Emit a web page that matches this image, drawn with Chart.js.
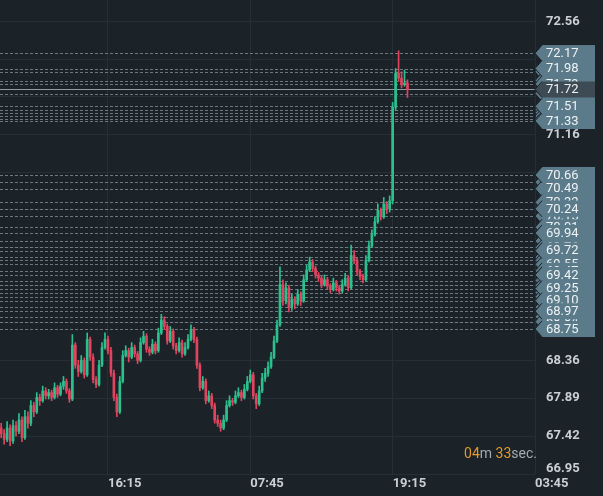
<!DOCTYPE html>
<html>
<head>
<meta charset="utf-8">
<script src="https://cdn.jsdelivr.net/npm/chart.js@4.4.1/dist/chart.umd.min.js"></script>
<style>
  html, body { margin: 0; background: #1b2228; }
  #wrap { width: 603px; height: 496px; }
</style>
</head>
<body>
<div id="wrap"><canvas id="priceChart"></canvas></div>
<script>
// candles (one per slot)
const open = [
  67.52,67.45,67.38,67.52,67.36,67.55,67.48,67.62,67.40,67.66,
  67.58,67.80,67.72,67.90,67.86,67.98,67.92,67.96,67.90,68.02,
  67.94,68.04,68.10,67.98,67.88,68.55,68.30,68.22,68.36,68.18,
  68.62,68.40,68.12,68.06,68.30,68.52,68.62,68.48,68.20,67.90,
  67.72,68.10,68.42,68.48,68.40,68.52,68.44,68.36,68.58,68.66,
  68.50,68.46,68.56,68.48,68.70,68.86,68.78,68.60,68.72,68.54,
  68.48,68.58,68.44,68.52,68.62,68.74,68.62,68.30,68.02,68.10,
  67.86,67.92,67.80,67.62,67.58,67.52,67.62,67.80,67.86,67.84,
  67.92,67.96,67.90,68.00,68.10,68.18,67.92,67.82,67.98,68.14,
  68.20,68.28,68.40,68.60,68.80,69.30,69.10,69.26,69.02,69.12,
  69.06,69.18,69.10,69.36,69.48,69.58,69.50,69.42,69.38,69.30,
  69.36,69.28,69.24,69.32,69.26,69.22,69.30,69.38,69.26,69.66,
  69.60,69.46,69.40,69.36,69.60,69.78,69.92,70.08,70.22,70.14,
  70.30,70.24,70.34,71.50,71.92,71.86,71.78,71.80
]
const high = [
  67.58,67.50,67.60,67.56,67.62,67.60,67.70,67.66,67.74,67.72,
  67.86,67.84,67.96,67.94,68.04,68.02,68.00,67.99,68.08,68.05,
  68.08,68.16,68.13,68.01,68.68,68.58,68.36,68.42,68.39,68.70,
  68.65,68.44,68.16,68.36,68.58,68.70,68.66,68.52,68.24,67.94,
  68.16,68.48,68.54,68.51,68.58,68.55,68.47,68.64,68.72,68.69,
  68.53,68.62,68.59,68.76,68.93,68.90,68.81,68.78,68.75,68.57,
  68.64,68.61,68.58,68.68,68.80,68.77,68.65,68.33,68.16,68.13,
  67.98,67.95,67.83,67.68,67.62,67.68,67.86,67.92,67.89,67.98,
  68.02,67.99,68.06,68.16,68.24,68.21,67.95,68.04,68.20,68.26,
  68.34,68.46,68.66,68.86,69.52,69.36,69.32,69.29,69.18,69.15,
  69.24,69.21,69.42,69.54,69.64,69.61,69.53,69.45,69.41,69.42,
  69.39,69.31,69.38,69.35,69.29,69.36,69.44,69.41,69.79,69.72,
  69.63,69.49,69.43,69.66,69.84,69.98,70.14,70.30,70.25,70.38,
  70.33,70.40,71.56,71.98,72.20,71.94,71.96,71.84
]
const low = [
  67.40,67.32,67.35,67.30,67.33,67.42,67.45,67.35,67.38,67.52,
  67.55,67.66,67.70,67.80,67.84,67.88,67.88,67.86,67.88,67.90,
  67.92,68.00,67.95,67.84,67.86,68.26,68.16,68.20,68.14,68.16,
  68.36,68.08,68.02,68.04,68.28,68.50,68.44,68.16,67.86,67.66,
  67.70,68.08,68.40,68.34,68.38,68.40,68.32,68.34,68.56,68.46,
  68.42,68.44,68.44,68.46,68.68,68.74,68.56,68.58,68.50,68.44,
  68.46,68.40,68.42,68.50,68.60,68.58,68.26,67.98,68.00,67.82,
  67.84,67.76,67.58,67.54,67.48,67.50,67.60,67.78,67.80,67.82,
  67.90,67.86,67.88,67.98,68.08,67.88,67.76,67.80,67.96,68.10,
  68.16,68.26,68.38,68.58,68.78,69.04,69.06,68.96,68.98,69.00,
  69.04,69.04,69.08,69.34,69.46,69.46,69.38,69.34,69.26,69.28,
  69.24,69.20,69.22,69.22,69.18,69.20,69.28,69.22,69.24,69.56,
  69.42,69.36,69.32,69.34,69.58,69.76,69.90,70.06,70.10,70.12,
  70.18,70.20,70.30,71.46,71.82,71.74,71.76,71.62
]
const close = [
  67.45,67.38,67.52,67.36,67.55,67.48,67.62,67.40,67.66,67.58,
  67.80,67.72,67.90,67.86,67.98,67.92,67.96,67.90,68.02,67.94,
  68.04,68.10,67.98,67.88,68.55,68.30,68.22,68.36,68.18,68.62,
  68.40,68.12,68.06,68.30,68.52,68.62,68.48,68.20,67.90,67.72,
  68.10,68.42,68.48,68.40,68.52,68.44,68.36,68.58,68.66,68.50,
  68.46,68.56,68.48,68.70,68.86,68.78,68.60,68.72,68.54,68.48,
  68.58,68.44,68.52,68.62,68.74,68.62,68.30,68.02,68.10,67.86,
  67.92,67.80,67.62,67.58,67.52,67.62,67.80,67.86,67.84,67.92,
  67.96,67.90,68.00,68.10,68.18,67.92,67.82,67.98,68.14,68.20,
  68.28,68.40,68.60,68.80,69.30,69.10,69.26,69.02,69.12,69.06,
  69.18,69.10,69.36,69.48,69.58,69.50,69.42,69.38,69.30,69.36,
  69.28,69.24,69.32,69.26,69.22,69.30,69.38,69.26,69.66,69.60,
  69.46,69.40,69.36,69.60,69.78,69.92,70.08,70.22,70.14,70.30,
  70.24,70.34,71.50,71.92,71.86,71.78,71.80,71.72
]

// axis ticks
const xTicks = [36, 84, 132, 180]
const timeLabels = ['16:15', '07:45', '19:15', '03:45']
const yTicks = [66.95, 67.42, 67.89, 68.36, 68.83, 69.29, 69.76, 70.23, 70.69, 71.16, 71.63, 72.09, 72.56]

// horizontal price levels (dashed lines) and the ones whose tag is readable
const levels = [72.17, 71.98, 71.94, 71.83, 71.79, 71.67, 71.51, 71.47, 71.43, 71.39, 71.35, 71.33,
  70.66, 70.57, 70.49, 70.32, 70.24, 70.15, 70.01, 69.94, 69.84, 69.76, 69.72, 69.64, 69.60, 69.55,
  69.47, 69.42, 69.35, 69.29, 69.25, 69.20, 69.15, 69.10, 69.02, 68.97, 68.90, 68.84, 68.75]
const shownTags = [72.17, 71.98, 71.51, 70.66, 70.24, 69.94, 69.72, 69.42, 69.25, 69.10, 68.97, 68.75]
const currentPrice = 71.72

const bgColor = '#1b2228'
const gridColor = '#262f35'
const upColor = '#2cc08e'
const downColor = '#e2445e'
const textColor = '#c9cfd4'

const candleColor = ctx => close[ctx.dataIndex] >= open[ctx.dataIndex] ? upColor : downColor

function drawTag(ctx, x, y, label, fill) {
  ctx.beginPath()
  ctx.moveTo(x, y)
  ctx.lineTo(x + 7, y - 8)
  ctx.lineTo(x + 60, y - 8)
  ctx.lineTo(x + 60, y + 8)
  ctx.lineTo(x + 7, y + 8)
  ctx.closePath()
  ctx.fillStyle = fill
  ctx.fill()
  // only the notch gets a dark edge, like the stacked tags in the app
  ctx.beginPath()
  ctx.moveTo(x + 7, y - 8)
  ctx.lineTo(x, y)
  ctx.lineTo(x + 7, y + 8)
  ctx.strokeStyle = bgColor
  ctx.lineWidth = 1
  ctx.stroke()
  ctx.fillStyle = '#eef2f4'
  ctx.font = '13px Roboto'
  ctx.textAlign = 'left'
  ctx.textBaseline = 'middle'
  ctx.fillText(label, x + 11, y + 0.5)
}

const levelsPlugin = {
  id: 'levels',
  beforeDraw(chart) {
    const ctx = chart.ctx
    ctx.save()
    ctx.fillStyle = bgColor
    ctx.fillRect(0, 0, chart.width, chart.height)
    ctx.restore()
  },
  beforeDatasetsDraw(chart) {
    const { ctx, chartArea, scales } = chart
    ctx.save()
    ctx.lineWidth = 1
    ctx.strokeStyle = 'rgba(175,190,200,0.55)'
    ctx.setLineDash([3, 2])
    levels.forEach(v => {
      const y = Math.round(scales.y.getPixelForValue(v)) + 0.5
      ctx.beginPath()
      ctx.moveTo(chartArea.left, y)
      ctx.lineTo(chartArea.right, y)
      ctx.stroke()
    })
    ctx.setLineDash([])
    ctx.strokeStyle = '#8f9ca4'
    const yc = Math.round(scales.y.getPixelForValue(currentPrice)) + 0.5
    ctx.beginPath()
    ctx.moveTo(chartArea.left, yc)
    ctx.lineTo(chartArea.right, yc)
    ctx.stroke()
    ctx.restore()
  },
  afterDraw(chart) {
    const { ctx, chartArea, scales } = chart
    const right = chartArea.right
    ctx.save()

    // price scale labels
    ctx.font = 'bold 13px Roboto'
    ctx.fillStyle = textColor
    ctx.textAlign = 'left'
    ctx.textBaseline = 'middle'
    yTicks.forEach((v, i) => {
      let y = scales.y.getPixelForValue(v)
      if (i === 0) y -= 5
      ctx.fillText(v.toFixed(2), right + 11, y)
    })

    // level tags
    levels.forEach(v => drawTag(ctx, right, scales.y.getPixelForValue(v), v.toFixed(2), '#5b7b8b'))
    shownTags.forEach(v => drawTag(ctx, right, scales.y.getPixelForValue(v), v.toFixed(2), '#5b7b8b'))
    drawTag(ctx, right, scales.y.getPixelForValue(currentPrice), currentPrice.toFixed(2), '#3e4b54')

    // candle countdown
    const parts = [['04', '#e39a2c'], ['m ', '#a3abb1'], ['33', '#e39a2c'], ['sec.', '#a3abb1']]
    ctx.font = '14px Roboto'
    ctx.textBaseline = 'middle'
    let total = 0
    parts.forEach(p => { total += ctx.measureText(p[0]).width })
    let x = right + 2 - total
    parts.forEach(p => {
      ctx.fillStyle = p[1]
      ctx.fillText(p[0], x, 454)
      x += ctx.measureText(p[0]).width
    })
    ctx.restore()
  }
}

const wicks = open.map((o, i) => ({ x: i, y: [low[i], high[i]] }))
const bodies = open.map((o, i) => ({ x: i, y: [Math.min(o, close[i]), Math.max(o, close[i])] }))

new Chart(document.getElementById('priceChart'), {
  type: 'bar',
  data: {
    datasets: [
      { label: 'wick', data: wicks, backgroundColor: candleColor, barThickness: 1, grouped: false },
      { label: 'body', data: bodies, backgroundColor: candleColor, barThickness: 2, minBarLength: 1, grouped: false }
    ]
  },
  options: {
    responsive: true,
    maintainAspectRatio: false,
    animation: false,
    layout: { padding: 0 },
    plugins: { legend: { display: false }, tooltip: { enabled: false } },
    scales: {
      x: {
        type: 'linear',
        min: -0.4,
        max: 180,
        offset: false,
        afterBuildTicks: s => { s.ticks = xTicks.map(v => ({ value: v })) },
        afterFit: s => { s.height = 22 },
        grid: { color: gridColor, drawTicks: false, offset: false },
        border: { display: false },
        ticks: {
          autoSkip: false,
          maxRotation: 0,
          align: 'start',
          padding: 2,
          color: textColor,
          font: { family: 'Roboto', size: 13, weight: 'bold' },
          callback: (v, i) => timeLabels[i]
        }
      },
      y: {
        position: 'right',
        min: 66.95,
        max: 72.83,
        afterBuildTicks: s => { s.ticks = yTicks.map(v => ({ value: v })) },
        afterFit: s => { s.width = 68 },
        grid: { color: gridColor, drawTicks: false },
        border: { display: false },
        ticks: { display: false }
      }
    }
  },
  plugins: [levelsPlugin]
})
</script>
</body>
</html>
